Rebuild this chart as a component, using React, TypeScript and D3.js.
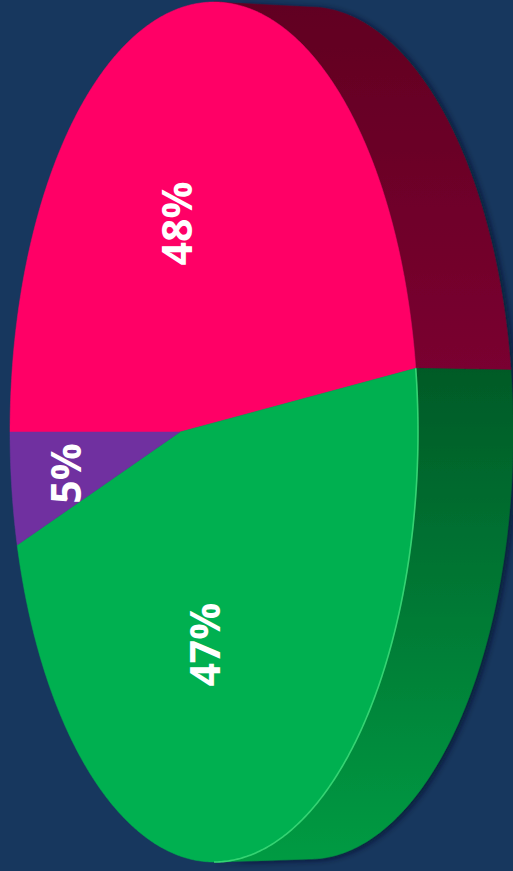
import React from 'react';
import * as d3 from 'd3';

const categories = ['Segment A', 'Segment B', 'Segment C'];
const values = [48, 47, 5];
const labels = ['48%', '47%', '5%'];
const faceColors = ['#FF0066', '#00B050', '#7030A0'];
const sideTopColors = ['#610021', '#005A27', '#4A1C6E'];
const sideBottomColors = ['#7A0030', '#009B43', '#5A2484'];
const rimColors = ['none', '#3EDC7A', 'none'];

const W = 513, H = 871;
const BG = '#17375E';
// front face ellipse
const CX = 214, CY = 432, RX = 204, RY = 430;
// back face ellipse (depth)
const BCX = 309, BCY = 433, BRX = 204, BRY = 426;
// perspective boost
const BETA = -0.167;
const S = Math.sqrt(1 - BETA * BETA);

function proj(t: number, r: number, back = false): [number, number] {
  const pu = r * Math.cos(t), pv = r * Math.sin(t);
  const den = 1 + BETA * pu;
  const u = (pu + BETA) / den;
  const v = (pv * S) / den;
  if (back) return [BCX + u * BRX, BCY + v * BRY];
  return [CX + u * RX, CY + v * RY];
}

function arcPts(t0: number, t1: number, back = false): [number, number][] {
  const n = Math.max(2, Math.ceil(Math.abs(t1 - t0) / (Math.PI / 360)));
  const pts: [number, number][] = [];
  for (let i = 0; i <= n; i++) pts.push(proj(t0 + ((t1 - t0) * i) / n, 1, back));
  return pts;
}

const thetaV = Math.atan2(S, -BETA);

export default function App() {
  const pie = d3
    .pie<number>()
    .sort(null)
    .value((d) => d)
    .startAngle(1.5 * Math.PI)
    .endAngle(3.5 * Math.PI);
  const arcs = pie(values);
  const line = d3.line();

  const slices = arcs.map((a, i) => {
    const t0 = a.startAngle - Math.PI / 2;
    const t1 = a.endAngle - Math.PI / 2;
    const front = 'M' + proj(0, 0).join(',') + 'L' + arcPts(t0, t1).map((p) => p.join(',')).join('L') + 'Z';
    const sides: { d: string; y0: number; y1: number; rim: string }[] = [];
    for (let k = -1; k <= 2; k++) {
      const lo = Math.max(t0, -thetaV + 2 * Math.PI * k);
      const hi = Math.min(t1, thetaV + 2 * Math.PI * k);
      if (hi > lo) {
        const f = arcPts(lo, hi);
        const b = arcPts(hi, lo, true);
        const all = f.concat(b);
        const ys = all.map((p) => p[1]);
        sides.push({
          d: line(all)! + 'Z',
          y0: d3.min(ys)!,
          y1: d3.max(ys)!,
          rim: line(f)!,
        });
      }
    }
    const mid = (t0 + t1) / 2;
    const lr = a.value < 10 ? 0.66 : 0.5;
    const lp = proj(mid, lr);
    return { i, front, sides, lp };
  });

  return (
    <svg width={W} height={H} style={{ position: 'absolute', left: 0, top: 0, display: 'block' }}>
      <defs>
        <filter id="shadow" x="-20%" y="-20%" width="140%" height="140%">
          <feDropShadow dx="3" dy="1" stdDeviation="3" floodColor="#06162b" floodOpacity="0.75" />
        </filter>
        {slices.map((s) =>
          s.sides.map((sd, j) => (
            <linearGradient
              key={`g${s.i}-${j}`}
              id={`side${s.i}-${j}`}
              gradientUnits="userSpaceOnUse"
              x1={0}
              x2={0}
              y1={sd.y0}
              y2={sd.y1}
            >
              <stop offset="0%" stopColor={sideTopColors[s.i]} />
              <stop offset="100%" stopColor={sideBottomColors[s.i]} />
            </linearGradient>
          ))
        )}
      </defs>
      <rect width={W} height={H} fill={BG} />
      <g filter="url(#shadow)">
        {slices.map((s) =>
          s.sides.map((sd, j) => (
            <path key={`s${s.i}-${j}`} d={sd.d} fill={`url(#side${s.i}-${j})`} stroke={`url(#side${s.i}-${j})`} strokeWidth={0.5} />
          ))
        )}
      </g>
      <g>
        {slices.map((s) => (
          <path key={`f${s.i}`} d={s.front} fill={faceColors[s.i]} stroke={faceColors[s.i]} strokeWidth={0.5}>
            <title>{categories[s.i]}</title>
          </path>
        ))}
      </g>
      <g>
        {slices.map((s) =>
          rimColors[s.i] === 'none'
            ? null
            : s.sides.map((sd, j) => (
                <path key={`r${s.i}-${j}`} d={sd.rim} fill="none" stroke={rimColors[s.i]} strokeWidth={1.6} strokeOpacity={0.85} />
              ))
        )}
      </g>
      <g>
        {slices.map((s) => (
          <text
            key={`t${s.i}`}
            transform={`translate(${s.lp[0] + 3},${s.lp[1] + 2}) rotate(-90)`}
            textAnchor="middle"
            dy="0.36em"
            fill="#FFFFFF"
            fontFamily="'Open Sans', sans-serif"
            fontWeight={700}
            fontSize={41}
          >
            {labels[s.i]}
          </text>
        ))}
      </g>
    </svg>
  );
}
